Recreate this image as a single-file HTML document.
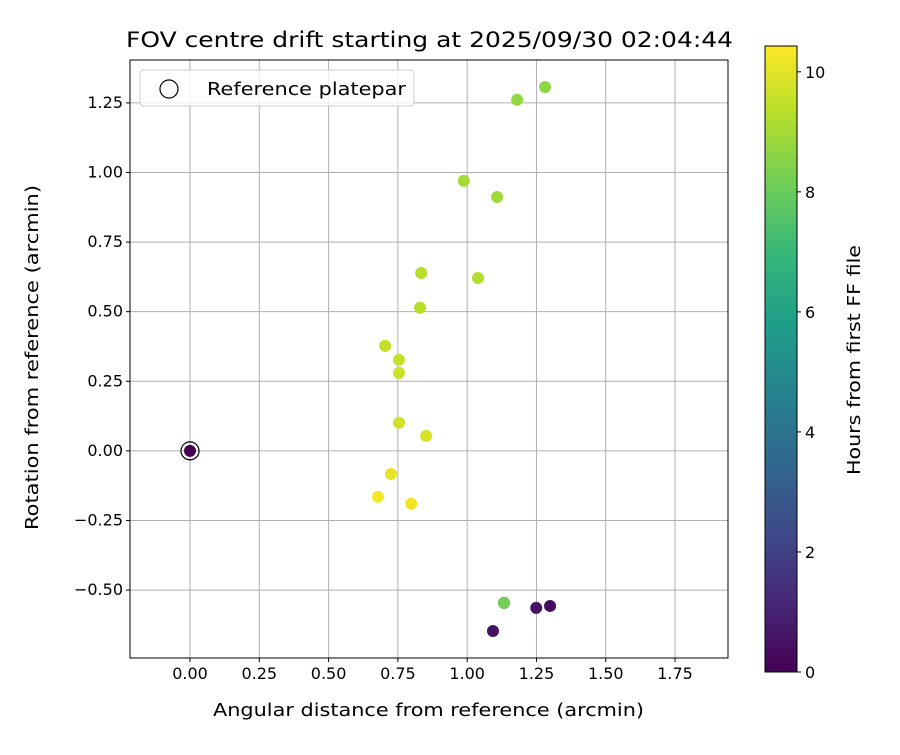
<!DOCTYPE html>
<html><head><meta charset="utf-8"><style>
body{margin:0;background:#fff;font-family:"Liberation Sans","DejaVu Sans",sans-serif;}
svg text{font-family:"DejaVu Sans","Liberation Sans",sans-serif;}
</style></head><body>
<svg id="chart" width="900" height="750" xmlns="http://www.w3.org/2000/svg"></svg>
<script>
const xVals=[0,1.133,1.249,1.299,1.093,0.678,0.725,0.798,0.852,0.754,0.754,0.754,0.704,0.830,0.834,1.039,0.988,1.108,1.180,1.281];
const yVals=[0,-0.546,-0.564,-0.557,-0.647,-0.165,-0.083,-0.190,0.054,0.101,0.280,0.327,0.377,0.514,0.639,0.621,0.970,0.912,1.261,1.307];
const hours=[0,0.6,0.5,0.3,0.5,10.3,10.1,10.2,9.8,9.7,9.6,9.5,9.5,9.3,9.3,9.2,9.0,8.9,8.7,8.6];
const overlayX=[1.133];const overlayY=[-0.546];const overlayH=[8.2];
const xTicks=[0,0.25,0.5,0.75,1.0,1.25,1.5,1.75];
const yTicks=[-0.5,-0.25,0,0.25,0.5,0.75,1.0,1.25];
const cTicks=[0,2,4,6,8,10];

const NS="http://www.w3.org/2000/svg";const svg=document.getElementById('chart');
const L=130,R=728,T=60,B=658;
const xMin=-0.2165,xMax=1.941,yMin=-0.744,yMax=1.404,cMax=10.43;
const sx=v=>L+(v-xMin)/(xMax-xMin)*(R-L);
const sy=v=>B-(v-yMin)/(yMax-yMin)*(B-T);
function el(t,a,p){const e=document.createElementNS(NS,t);for(const k in a)e.setAttribute(k,a[k]);(p||svg).appendChild(e);return e;}
const vir=[[68,1,84],[72,40,120],[62,74,137],[49,104,142],[38,130,142],[31,158,137],[53,183,121],[110,206,88],[181,222,43],[253,231,37]];
function cmap(h){let t=Math.max(0,Math.min(1,h/cMax))*9;let i=Math.min(8,Math.floor(t));let f=t-i;const a=vir[i],b=vir[i+1];return`rgb(${a.map((c,k)=>Math.round(c+(b[k]-c)*f)).join(',')})`;}

el('rect',{x:L,y:T,width:R-L,height:B-T,fill:'#fff'});
xTicks.forEach(v=>{const g=el('line',{x1:sx(v),x2:sx(v),y1:T,y2:B,stroke:'#b0b0b0','stroke-width':1});
el('line',{x1:sx(v),x2:sx(v),y1:B,y2:B+4,stroke:'#000'});
const t=el('text',{x:sx(v),y:B+21,'text-anchor':'middle','font-size':16});t.textContent=v.toFixed(2);});
yTicks.forEach(v=>{const g=el('line',{x1:L,x2:R,y1:sy(v),y2:sy(v),stroke:'#b0b0b0','stroke-width':1});
el('line',{x1:L-4,x2:L,y1:sy(v),y2:sy(v),stroke:'#000'});
const t=el('text',{x:L-7,y:sy(v)+5,'text-anchor':'end','font-size':16});t.textContent=(v<0?'\u2212':'')+Math.abs(v).toFixed(2);});

const ring=el('circle',{cx:sx(0),cy:sy(0),r:9,fill:'none',stroke:'#000','stroke-width':1.2});

xVals.forEach((v,i)=>{const c=el('circle',{cx:sx(v),cy:sy(yVals[i]),r:6,fill:cmap(hours[i])});});
overlayX.forEach((v,i)=>{const c=el('circle',{cx:sx(v),cy:sy(overlayY[i]),r:6,fill:cmap(overlayH[i])});});
el('rect',{x:L,y:T,width:R-L,height:B-T,fill:'none',stroke:'#000','stroke-width':1});

const lg=el('g',{});
el('rect',{x:140,y:70,width:274,height:36,rx:3,fill:'#fff','fill-opacity':0.8,stroke:'#ccc'},lg);
el('circle',{cx:169,cy:89,r:9,fill:'none',stroke:'#000','stroke-width':1.2},lg);
const lt=el('text',{x:207,y:95,'font-size':18,textLength:199,lengthAdjust:'spacingAndGlyphs'},lg);lt.textContent='Reference platepar';

const tt=el('text',{x:126,y:47,'font-size':21,textLength:607,lengthAdjust:'spacingAndGlyphs'});tt.textContent='FOV centre drift starting at 2025/09/30 02:04:44';
const xt=el('text',{x:213,y:716,'font-size':18,textLength:431,lengthAdjust:'spacingAndGlyphs'});xt.textContent='Angular distance from reference (arcmin)';
const yt=el('text',{x:0,y:0,'font-size':18,textLength:345,lengthAdjust:'spacingAndGlyphs',transform:`translate(38,530) rotate(-90)`});yt.textContent='Rotation from reference (arcmin)';

const CL=765,CR=797,CT=46,CB=672;
const defs=el('defs',{});const gr=el('linearGradient',{id:'vg',x1:0,y1:1,x2:0,y2:0},defs);
vir.forEach((c,i)=>el('stop',{offset:i/9,'stop-color':`rgb(${c.join(',')})`},gr));
const cb=el('rect',{x:CL,y:CT,width:CR-CL,height:CB-CT,fill:'url(#vg)',stroke:'#000','stroke-width':1});
const cy=h=>CB-h/cMax*(CB-CT);
cTicks.forEach(v=>{el('line',{x1:CR,x2:CR+4,y1:cy(v),y2:cy(v),stroke:'#000'});const t=el('text',{x:CR+8,y:cy(v)+6,'font-size':16});t.textContent=v;});
const ct=el('text',{x:0,y:0,'font-size':17.5,textLength:230,lengthAdjust:'spacingAndGlyphs',transform:`translate(860,475) rotate(-90)`});ct.textContent='Hours from first FF file';
</script>
</body></html>
